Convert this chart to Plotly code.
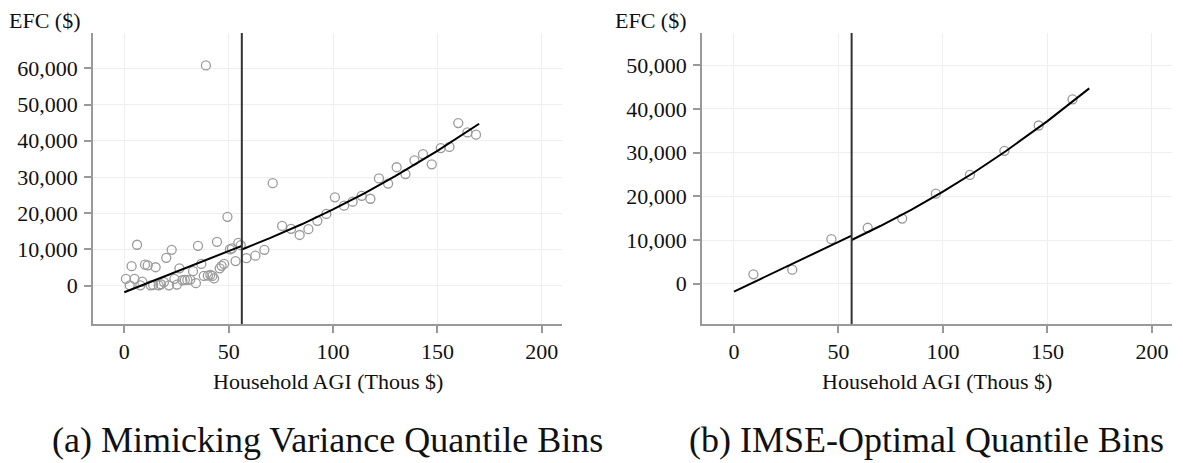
import plotly.graph_objects as go

# ---------------- data ----------------
# Panel (a): mimicking-variance quantile bins  (x: thousands $, y: $)
left_x = [0.8, 2.6, 3.5, 4.9, 6.1, 7.7, 8.6, 9.9, 11.2, 12.6, 13.8, 15.0, 16.5, 17.5,
          19.0, 20.1, 21.4, 22.7, 24.0, 25.2, 26.4, 27.8, 29.0, 30.2, 31.6, 32.9, 34.3,
          35.3, 36.9, 38.1, 39.1, 40.0, 41.2, 42.2, 43.0, 44.4, 45.7, 46.6, 47.8, 49.4,
          50.6, 51.6, 53.3, 54.6, 55.8,
          58.5, 62.8, 67.1, 71.1, 75.6, 79.9, 84.0, 88.2, 92.5, 96.8, 100.9, 105.3,
          109.4, 113.7, 117.9, 122.0, 126.4, 130.5, 134.7, 139.0, 143.1, 147.3, 151.6,
          155.8, 160.0, 164.4, 168.5]
left_y = [1900, 100, 5400, 1900, 11300, 100, 1100, 5800, 5600, 100, 200, 5100, 100, 400,
          1000, 7700, 100, 9900, 1900, 300, 4800, 1500, 1600, 1600, 1700, 4000, 700,
          11000, 6000, 2700, 60800, 2800, 3000, 2700, 2000, 12100, 4800, 5500, 6000, 19000,
          10000, 10300, 6800, 11800, 11200,
          7600, 8300, 9900, 28300, 16500, 15700, 14000, 15600, 17900, 19800, 24400, 22100,
          23200, 24800, 24000, 29600, 28200, 32700, 30800, 34600, 36300, 33500, 38000,
          38300, 44900, 42300, 41700]

# Panel (b): IMSE-optimal quantile bins
right_x = [9.3, 27.9, 46.6, 64.0, 80.5, 96.6, 112.9, 129.4, 145.8, 162.0]
right_y = [2150, 3200, 10200, 12800, 14900, 20600, 24900, 30400, 36200, 42200]

# Fitted regression line (same in both panels)
cutoff = 56.3
fit_left_x = [0, 28, cutoff]
fit_left_y = [-1800, 4600, 11000]
fit_right_x = [cutoff, 70, 85, 100, 115, 130, 150, 160, 170]
fit_right_y = [10000, 13200, 16950, 21050, 25500, 30300, 37200, 40900, 44700]

x_ticks = [0, 50, 100, 150, 200]
y_ticks_left = [0, 10000, 20000, 30000, 40000, 50000, 60000]
y_ticks_right = [0, 10000, 20000, 30000, 40000, 50000]

y_title = "EFC ($)"
x_title = "Household AGI (Thous $)"
captions = ["(a) Mimicking Variance Quantile Bins", "(b) IMSE-Optimal Quantile Bins"]

# ---------------- figure ----------------
W, H = 1183, 463
FONT = "'Liberation Serif', 'Times New Roman', Times, serif"
GREY = "#999999"
GRID = "#eeeeee"

fig = go.Figure()

marker = dict(symbol="circle-open", size=9, color="#9a9a9a", line=dict(width=1.3, color="#9a9a9a"))
line = dict(color="black", width=2)

fig.add_trace(go.Scatter(x=left_x, y=left_y, mode="markers", marker=marker, xaxis="x", yaxis="y"))
fig.add_trace(go.Scatter(x=fit_left_x, y=fit_left_y, mode="lines", line=line, xaxis="x", yaxis="y"))
fig.add_trace(go.Scatter(x=fit_right_x, y=fit_right_y, mode="lines", line=line, xaxis="x", yaxis="y"))

fig.add_trace(go.Scatter(x=right_x, y=right_y, mode="markers", marker=marker, xaxis="x2", yaxis="y2"))
fig.add_trace(go.Scatter(x=fit_left_x, y=fit_left_y, mode="lines", line=line, xaxis="x2", yaxis="y2"))
fig.add_trace(go.Scatter(x=fit_right_x, y=fit_right_y, mode="lines", line=line, xaxis="x2", yaxis="y2"))

ydom = [1 - 324 / H, 1 - 33 / H]

common_x = dict(
    tickvals=x_ticks, showgrid=True, gridcolor=GRID, gridwidth=1, zeroline=False,
    showline=True, linecolor=GREY, linewidth=1.5, ticks="outside", ticklen=7,
    tickcolor=GREY, tickwidth=1.5, tickfont=dict(family=FONT, size=22, color="#111"),
)
common_y = dict(
    showgrid=True, gridcolor=GRID, gridwidth=1, zeroline=False, tickformat=",d",
    showline=True, linecolor=GREY, linewidth=1.5, ticks="outside", ticklen=7,
    tickcolor=GREY, tickwidth=1.5, tickfont=dict(family=FONT, size=22, color="#111"),
    domain=ydom, ticklabelstandoff=2,
)

fig.update_layout(
    width=W, height=H, margin=dict(l=0, r=0, t=0, b=0),
    paper_bgcolor="white", plot_bgcolor="white", showlegend=False,
    xaxis=dict(common_x, domain=[93 / W, 562 / W], range=[-15, 209.7], anchor="y"),
    yaxis=dict(common_y, tickvals=y_ticks_left, range=[-10570, 69750], anchor="x"),
    xaxis2=dict(common_x, domain=[702 / W, 1172 / W], range=[-15.3, 209.6], anchor="y2"),
    yaxis2=dict(common_y, tickvals=y_ticks_right, range=[-9220, 57370], anchor="x2"),
)

for xr, yr in (("x", "y"), ("x2", "y2")):
    fig.add_shape(type="line", xref=xr, yref=f"{yr} domain", x0=cutoff, x1=cutoff, y0=0, y1=1,
                  line=dict(color="#333333", width=2))

ann = []
for xpix in (7, 613):
    ann.append(dict(x=xpix / W, y=1 - 20 / H, xref="paper", yref="paper", text=y_title,
                    showarrow=False, xanchor="left", yanchor="middle",
                    font=dict(family=FONT, size=22, color="#111")))
for xc in (327.5, 937):
    ann.append(dict(x=xc / W, y=1 - 381 / H, xref="paper", yref="paper", text=x_title,
                    showarrow=False, xanchor="center", yanchor="middle",
                    font=dict(family=FONT, size=22, color="#111")))
for xc, txt in zip((327, 926.5), captions):
    ann.append(dict(x=xc / W, y=1 - 440 / H, xref="paper", yref="paper", text=txt,
                    showarrow=False, xanchor="center", yanchor="middle",
                    font=dict(family=FONT, size=36, color="#111")))
fig.update_layout(annotations=ann)

fig.write_html("out.html")
